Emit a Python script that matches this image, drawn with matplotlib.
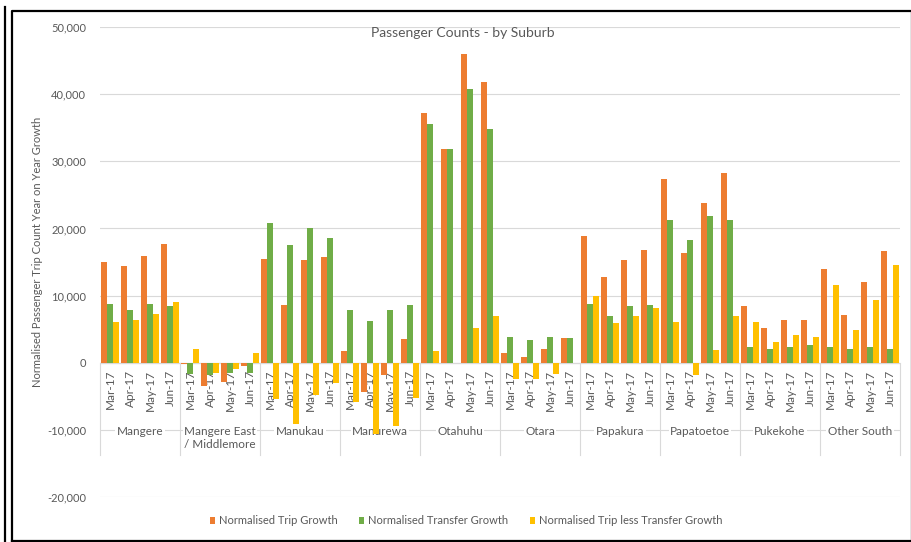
import numpy as np
import matplotlib
matplotlib.use("Agg")
import matplotlib.pyplot as plt
from matplotlib.patches import Patch
from matplotlib.lines import Line2D
from matplotlib.ticker import FuncFormatter

plt.rcParams["font.family"] = ["Lato", "DejaVu Sans"]

suburbs = ["Mangere", "Mangere East\n/ Middlemore", "Manukau", "Manurewa", "Otahuhu",
           "Otara", "Papakura", "Papatoetoe", "Pukekohe", "Other South"]
months = ["Mar-17", "Apr-17", "May-17", "Jun-17"]

# values per suburb, Mar..Jun
trip_growth = [
    15000, 14400, 15900, 17700,
    -200, -3400, -2800, -550,
    15500, 8600, 15300, 15700,
    1800, -4300, -1800, 3500,
    37200, 31800, 46000, 41800,
    1500, 900, 2100, 3700,
    18900, 12800, 15300, 16800,
    27300, 16400, 23800, 28300,
    8500, 5200, 6400, 6400,
    13900, 7100, 12000, 16600,
]
transfer_growth = [
    8700, 7800, 8700, 8500,
    -1700, -1900, -1500, -1600,
    20800, 17600, 20000, 18600,
    7800, 6200, 7800, 8600,
    35500, 31900, 40700, 34800,
    3900, 3400, 3800, 3700,
    8800, 6900, 8400, 8600,
    21300, 18300, 21900, 21200,
    2300, 2000, 2400, 2600,
    2300, 2100, 2400, 2000,
]
trip_less_transfer = [
    6000, 6400, 7200, 9000,
    2000, -1500, -900, 1500,
    -5400, -9200, -4800, -3000,
    -5800, -10600, -9400, -5200,
    1800, 0, 5200, 7000,
    -2400, -2400, -1700, 0,
    10000, 5900, 6900, 8200,
    6000, -1800, 1900, 7000,
    6000, 3100, 4100, 3800,
    11600, 4800, 9400, 14500,
]

series_names = ["Normalised Trip Growth", "Normalised Transfer Growth",
                "Normalised Trip less Transfer Growth"]
colors = ["#ED7D31", "#70AD47", "#FFC000"]
text_color = "#595959"
grid_color = "#D9D9D9"

W, H = 912, 542
fig = plt.figure(figsize=(W / 100, H / 100), dpi=100)
ax = fig.add_axes([100 / W, 45 / H, 800 / W, 470 / H])

n = len(suburbs) * len(months)
x = np.arange(n)
bw = 0.29
for k, (vals, c) in enumerate(zip([trip_growth, transfer_growth, trip_less_transfer], colors)):
    ax.bar(x + (k - 1) * bw, vals, width=bw, color=c, zorder=3)

ax.set_xlim(-0.5, n - 0.5)
ax.set_ylim(-20000, 50000)
ax.set_yticks(np.arange(-20000, 50001, 10000))
ax.yaxis.set_major_formatter(FuncFormatter(lambda v, p: f"{int(v):,}"))
ax.tick_params(axis="y", length=0, pad=10, labelsize=8, labelcolor=text_color)
ax.set_xticks([])
for s in ax.spines.values():
    s.set_visible(False)
ax.grid(axis="y", color=grid_color, linewidth=0.8, zorder=0)
ax.axhline(0, color=grid_color, linewidth=0.9, zorder=1)

# multi-level category labels
for i in range(n):
    ax.annotate(months[i % 4], xy=(i, 0), xytext=(0, -7), textcoords="offset pixels",
                rotation=90, ha="center", va="top", fontsize=8.5, color=text_color,
                zorder=2, annotation_clip=False)
for g, name in enumerate(suburbs):
    ax.annotate(name, xy=(4 * g + 1.5, 0), xytext=(0, -63), textcoords="offset pixels",
                ha="center", va="top", fontsize=8.5, color=text_color, zorder=2,
                linespacing=1.25, annotation_clip=False,
                bbox=dict(facecolor="white", edgecolor="none", pad=1))
for g in range(len(suburbs) + 1):
    ax.plot([4 * g - 0.5, 4 * g - 0.5], [0, -13700], color=grid_color,
            linewidth=0.8, zorder=1, clip_on=False)

fig.text(463 / W, 1 - 33 / H, "Passenger Counts - by Suburb", ha="center", va="center",
         fontsize=10, color=text_color)
fig.text(38 / W, 1 - 252 / H, "Normalised Passenger Trip Count Year on Year Growth",
         rotation=90, ha="center", va="center", fontsize=8, color=text_color)

handles = [Patch(facecolor=c, edgecolor="none") for c in colors]
fig.legend(handles, series_names, loc="center", bbox_to_anchor=(466 / W, 21 / H),
           ncol=3, frameon=False, fontsize=8, handlelength=0.45, handleheight=0.6,
           handletextpad=0.4, columnspacing=1.9, labelcolor=text_color)

# image frame
lw = 1.6
fig.add_artist(Line2D([5 / W, 5 / W], [0, 1 - 7 / H], color="black", linewidth=lw,
                      transform=fig.transFigure))
fig.add_artist(Line2D([12 / W, 12 / W, 1, 1], [1 / H, 1 - 11 / H, 1 - 11 / H, 1 / H],
                      color="black", linewidth=lw, transform=fig.transFigure))
fig.add_artist(Line2D([12 / W, 1], [1.2 / H, 1.2 / H], color="black", linewidth=lw,
                      transform=fig.transFigure))

fig.savefig("out.png", dpi=100)
